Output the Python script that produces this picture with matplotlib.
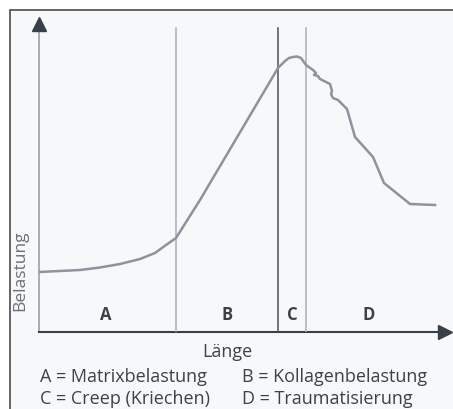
import matplotlib
matplotlib.use("Agg")
import matplotlib.pyplot as plt
from matplotlib.patches import Rectangle

# Curve data (x: Länge, y: Belastung)
laenge = [0, 21, 41, 61, 81, 101, 116, 127, 137, 161, 200, 239, 246, 250, 254, 258, 262,
          267, 274, 277, 275, 279, 281, 291, 293, 292, 294, 299, 308, 316, 334, 345, 371, 396]
belastung = [60, 61, 62, 64.5, 68, 73, 79, 87, 94, 132, 198, 264, 271, 274, 275, 275.5, 274,
             267, 262, 259, 257, 256, 253, 248, 241, 238, 234, 232, 223, 195, 175, 149, 128, 127]

grenzen = [137, 239, 267]          # region boundaries
grenz_farben = ["#a9afb5", "#4a5158", "#a9afb5"]
regionen = ["A", "B", "C", "D"]
regionen_x = [67, 188, 253, 330]
legende = ["A = Matrixbelastung", "B = Kollagenbelastung",
           "C = Creep (Kriechen)", "D = Traumatisierung"]

W, H = 453, 409
fig = plt.figure(figsize=(W / 100, H / 100), dpi=100)
fig.patch.set_facecolor("white")
fig.patches.append(Rectangle((9.5 / W, -0.1), 1.2, 1 - 9.5 / H + 0.1, transform=fig.transFigure,
                             facecolor="#f7f8fa", edgecolor="#555a60", lw=1.3, zorder=-5))

x0, y0 = 39, 332
ax = fig.add_axes([x0 / W, (H - y0) / H, (452 - x0) / W, (y0 - 15) / H])
ax.set_zorder(2)
ax.set_xlim(0, 413)
ax.set_ylim(0, 317)
ax.axis("off")
ax.patch.set_alpha(0)

axc = "#3a4047"
txt = "#3c4248"
# axes with arrows
ax.plot([0, 0], [0, 303], color="#9aa1a8", lw=1.2, clip_on=False)
ax.plot([0, 400], [0, 0], color=axc, lw=1.5, clip_on=False)
ax.plot([0], [308], marker="^", ms=10, color=axc, clip_on=False)
ax.plot([406], [0], marker=">", ms=10, color=axc, clip_on=False)

for gx, gc in zip(grenzen, grenz_farben):
    ax.plot([gx, gx], [0, 304], color=gc, lw=1.1)

ax.plot(laenge, belastung, color="#8b949c", lw=1.8, solid_joinstyle="round")

for r, rx in zip(regionen, regionen_x):
    ax.text(rx, 17, r, ha="center", va="center", fontsize=12, fontweight="bold",
            color=txt, family="Open Sans")

fig.text(20 / W, 1 - 271 / H, "Belastung", rotation=90, ha="center", va="center",
         fontsize=12.5, color="#6a7077", family="Open Sans", zorder=3)
fig.text(227 / W, 1 - 352 / H, "Länge", ha="center", va="center",
         fontsize=13, color=txt, family="Open Sans", zorder=3)
pos = [(40, 377), (242, 377), (40, 399.5), (242, 399.5)]
for (px, py), s in zip(pos, legende):
    fig.text(px / W, 1 - py / H, s, ha="left", va="center", fontsize=13,
             color=txt, family="Open Sans", zorder=3)

fig.savefig("out.png", dpi=100)
